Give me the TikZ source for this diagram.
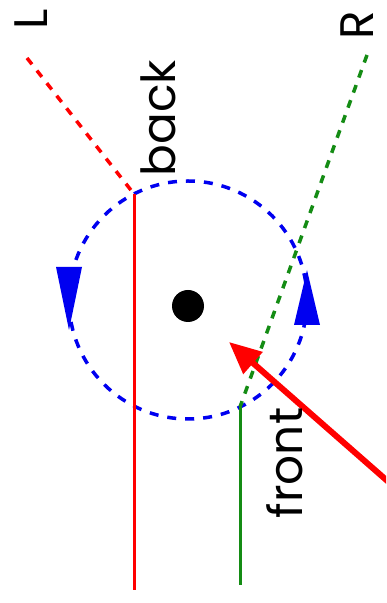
\documentclass[tikz,border=0pt]{standalone}
\usepackage{fontspec}
\setmainfont{Poppins}
\usetikzlibrary{arrows.meta}
\definecolor{rred}{RGB}{255,0,0}
\definecolor{ggreen}{RGB}{20,140,20}
\definecolor{bblue}{RGB}{0,0,240}
\tikzset{
  lbl/.style={rotate=90, font=\fontsize{47}{47}\selectfont, inner sep=0pt},
  rdash/.style={rred, line width=3.5pt, dash pattern=on 8pt off 8pt},
  gdash/.style={ggreen, line width=3.5pt, dash pattern=on 8pt off 8pt},
  bdash/.style={bblue, line width=3.5pt, dash pattern=on 9pt off 9pt},
  rsolid/.style={rred, line width=3pt},
  gsolid/.style={ggreen, line width=3pt},
  headfill/.style={fill=bblue}
}
\begin{document}
\begin{tikzpicture}[x=1pt,y=1pt]
\clip (0,0) rectangle (386,603);
\fill[white] (0,0) rectangle (386,603);
\coordinate (c) at (188,303);
\coordinate (lt) at (27,545);
\coordinate (lx) at (134,409);
\coordinate (lb) at (134,13);
\coordinate (rt) at (367,548);
\coordinate (rx) at (240,196);
\coordinate (rb) at (240,18);
\coordinate (tail) at (400,111);
\coordinate (tip) at (229,261);
% circle
\draw[bdash] (c) circle (119);
% arrowheads on circle
\fill[headfill] (56,336) -- (82,336) -- (69,273) -- cycle;
\fill[headfill] (294,278) -- (320,278) -- (307,333) -- cycle;
\node[circle, fill=black, minimum size=32pt, inner sep=0pt] (dot) at (188,297) {};
% lines
\draw[rdash] (lt) -- (lx);
\draw[rsolid] (lx) -- (lb);
\draw[gdash] (rt) -- (rx);
\draw[gsolid] (rx) -- (rb);
\draw[rred, line width=6pt, -{Triangle[length=32pt,width=28pt]}] (tail) -- (tip);
% labels
\node[lbl] (L) at (31,584) {L};
\node[lbl] (R) at (357,578) {R};
\node[lbl] (back) at (158,485) {back};
\node[lbl] (front) at (285,140) {front};
\end{tikzpicture}
\end{document}
